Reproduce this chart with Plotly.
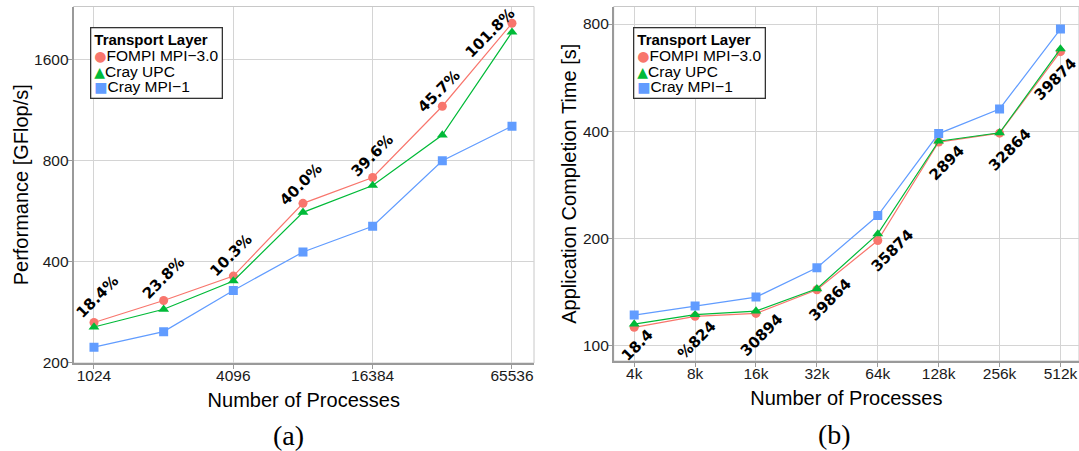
import math
import plotly.graph_objects as go

# ---------------- data ----------------
procs_a = [1024, 2048, 4096, 8192, 16384, 32768, 65536]
tick_a = [1024, 4096, 16384, 65536]
fompi_a = [263, 306, 362, 597, 713, 1164, 2060]
upc_a = [255, 288, 350, 561, 675, 955, 1937]
mpi1_a = [222, 247, 328, 427, 510, 800, 1015]
labels_a = ["18.4%", "23.8%", "10.3%", "40.0%", "39.6%", "45.7%", "101.8%"]
yticks_a = [200, 400, 800, 1600]

procs_b = [4096, 8192, 16384, 32768, 65536, 131072, 262144, 524288]
ticktext_b = ["4k", "8k", "16k", "32k", "64k", "128k", "256k", "512k"]
fompi_b = [112.6, 120.9, 123.2, 143.6, 197.4, 373, 395, 669]
upc_b = [115.0, 122.2, 125.1, 144.5, 206, 375, 396, 681]
mpi1_b = [121.9, 129.2, 136.9, 165.5, 232, 394, 462, 774]
labels_b = ["18.4", "%824", "30894", "39864", "35874", "2894", "32864", "39874"]
yticks_b = [100, 200, 400, 800]

series_names = ["FOMPI MPI\u22123.0", "Cray UPC", "Cray MPI\u22121"]

# ---------------- style ----------------
W, H = 1079, 451
colors = ["#F8766D", "#00BA38", "#619CFF"]
symbols = ["circle", "triangle-up", "square"]
msizes = [9, 9.5, 9]
grid = "#D4D4D4"
axline = "#9A9A9A"
tickfont = dict(family="Liberation Sans", size=15.5, color="#1A1A1A")
titlefont = dict(family="Liberation Sans", size=20, color="#000000")

# label offsets (pixels, relative to the FOMPI point)
off_a = [(3, -26), (0, -22), (-2, -21), (-1.5, -19), (-1, -22), (-3, -15), (-22, 10)]
off_b = [(3.5, 18), (2, 24), (6, 22), (13, 10), (14, 10), (8, 21), (10, 17), (-5, 27)]


def px_x(p):
    return p / W


def px_y(p):
    return 1 - p / H


fig = go.Figure()

for ys, name, c, s, ms in zip([fompi_a, upc_a, mpi1_a], series_names, colors, symbols, msizes):
    fig.add_trace(go.Scatter(x=procs_a, y=ys, name=name, mode="lines+markers",
                             line=dict(color=c, width=1.2),
                             marker=dict(color=c, symbol=s, size=ms),
                             xaxis="x", yaxis="y", showlegend=False))
for ys, name, c, s, ms in zip([fompi_b, upc_b, mpi1_b], series_names, colors, symbols, msizes):
    fig.add_trace(go.Scatter(x=procs_b, y=ys, name=name, mode="lines+markers",
                             line=dict(color=c, width=1.2),
                             marker=dict(color=c, symbol=s, size=ms),
                             xaxis="x2", yaxis="y2", showlegend=False))

common_axis = dict(type="log", showgrid=True, gridcolor=grid, gridwidth=1,
                   showline=True, linecolor=axline, linewidth=1.6,
                   ticks="outside", ticklen=4, tickcolor=axline, tickwidth=1.2,
                   tickfont=tickfont, zeroline=False, mirror=False, automargin=False)
xcommon = dict(common_axis, ticklabelstandoff=-6)
ycommon = dict(common_axis, ticklabelstandoff=-4)

fig.update_layout(
    width=W, height=H,
    margin=dict(l=0, r=0, t=0, b=0, autoexpand=False),
    paper_bgcolor="white", plot_bgcolor="white",
    showlegend=False,
    xaxis=dict(xcommon, domain=[px_x(73.5), px_x(534)],
               range=[2.9218, 4.9116], tickvals=tick_a,
               ticktext=[str(v) for v in tick_a], anchor="y",
               title=dict(text="Number of Processes", font=titlefont, standoff=10)),
    yaxis=dict(ycommon, domain=[px_y(363), px_y(6.5)],
               range=[2.2990, 3.3639], tickvals=yticks_a,
               ticktext=[str(v) for v in yticks_a], anchor="x",
               title=dict(text="Performance [GFlop/s]", font=titlefont, standoff=0)),
    xaxis2=dict(xcommon, domain=[px_x(613.7), 1.0],
                range=[3.5110, 5.8112], tickvals=procs_b,
                ticktext=ticktext_b, anchor="y2",
                title=dict(text="Number of Processes", font=titlefont, standoff=10)),
    yaxis2=dict(ycommon, domain=[px_y(361), px_y(6.5)],
                range=[1.9571, 2.9522], tickvals=yticks_b,
                ticktext=[str(v) for v in yticks_b], anchor="x2",
                title=dict(text="Application Completion Time [s]", font=titlefont, standoff=1)),
)

# panel borders (top/right, light)
for xr, yr in [("x domain", "y domain"), ("x2 domain", "y2 domain")]:
    fig.add_shape(type="rect", xref=xr, yref=yr, x0=0, x1=1, y0=0, y1=1,
                  line=dict(color="#C8C8C8", width=1), layer="below")

# rotated value labels
ann = []
for x, y, t, (dx, dy) in zip(procs_a, fompi_a, labels_a, off_a):
    ann.append(dict(x=math.log10(x), y=math.log10(y), xref="x", yref="y",
                    text="<b>" + t + "</b>", textangle=-45, showarrow=False,
                    xanchor="center", yanchor="middle", xshift=dx, yshift=-dy,
                    font=dict(family="DejaVu Sans", size=15, color="black")))
for x, y, t, (dx, dy) in zip(procs_b, fompi_b, labels_b, off_b):
    ann.append(dict(x=math.log10(x), y=math.log10(y), xref="x2", yref="y2",
                    text="<b>" + t + "</b>", textangle=-45, showarrow=False,
                    xanchor="center", yanchor="middle", xshift=dx, yshift=-dy,
                    font=dict(family="DejaVu Sans", size=15, color="black")))

# legend boxes
glyphs = ["\u25CF", "\u25B2", "\u25A0"]
gsizes = [14, 14, 14]
lines = ["<span style='font-size:15px'><b>Transport Layer</b></span>"]
for g, gs, c, n in zip(glyphs, gsizes, colors, series_names):
    lines.append("<span style='font-family:DejaVu Sans;font-size:%dpx;color:%s'>%s</span>"
                 "<span style='font-size:15.5px'>%s</span>" % (gs, c, g, n))
legend_text = "<br>".join(lines)
for lx, ly in [(90.3, 27.3), (633, 27)]:
    ann.append(dict(x=px_x(lx), y=px_y(ly), xref="paper", yref="paper",
                    xanchor="left", yanchor="top", align="left", showarrow=False,
                    text=legend_text, bgcolor="white", bordercolor="#333333",
                    borderwidth=1.3, borderpad=3,
                    font=dict(family="Liberation Sans", size=12, color="black")))

# sub-captions
for t, cx, cy in [("(a)", 288, 435), ("(b)", 834, 434)]:
    ann.append(dict(x=px_x(cx), y=px_y(cy), xref="paper", yref="paper",
                    xanchor="center", yanchor="middle", showarrow=False, text=t,
                    font=dict(family="Liberation Serif", size=28, color="black")))

fig.update_layout(annotations=ann)
fig.write_html("out.html", config={"displayModeBar": False},
               post_script="document.body.style.margin='0px';document.body.style.overflow='hidden';")
